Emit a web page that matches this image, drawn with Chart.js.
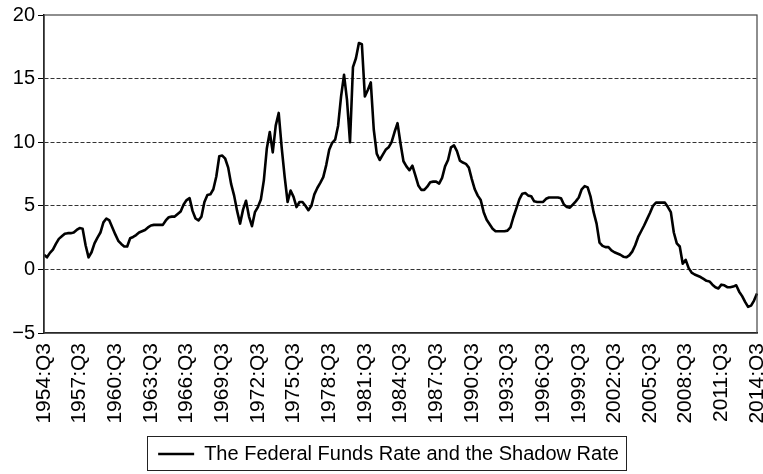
<!DOCTYPE html>
<html>
<head>
<meta charset="utf-8">
<script src="https://cdn.jsdelivr.net/npm/chart.js@4"></script>
<style>
  html, body { margin: 0; padding: 0; background: #fff; }
  #wrap { width: 763px; height: 474px; }
</style>
</head>
<body>
<div id="wrap"><canvas id="rateChart" width="763" height="474"></canvas></div>
<script>
// quarterly categories, 1954:Q3 .. 2014:Q3
const startYear = 1954;
const startQuarter = 3;
const quarterCount = 241;
const quarters = [];
for (let i = 0; i < quarterCount; i++) {
  const q = startQuarter - 1 + i;
  quarters.push((startYear + Math.floor(q / 4)) + ":Q" + (q % 4 + 1));
}

// values (percent)
const rates1954 = [1.15, 0.95, 1.3, 1.55, 2.0, 2.4, 2.6, 2.8, 2.85, 2.85, 2.9, 3.1,
  3.25, 3.2, 1.9, 0.95, 1.35, 2.05, 2.5, 2.9, 3.7, 4.0, 3.85, 3.3,
  2.75, 2.25, 2.0, 1.8, 1.8, 2.45, 2.55, 2.7, 2.9, 3.0, 3.1, 3.3,
  3.45, 3.5, 3.5, 3.5, 3.5, 3.85, 4.1, 4.15, 4.15, 4.35, 4.55, 5.1];
const rates1966 = [5.45, 5.6, 4.6, 4.0, 3.85, 4.15, 5.3, 5.85, 5.9, 6.3, 7.3, 8.9,
  8.95, 8.7, 8.0, 6.7, 5.8, 4.6, 3.6, 4.7, 5.4, 4.15, 3.4, 4.5,
  4.9, 5.5, 7.0, 9.5, 10.8, 9.2, 11.3, 12.3, 9.6, 7.3, 5.3, 6.2,
  5.7, 4.9, 5.3, 5.3, 5.0, 4.65, 5.0, 5.9, 6.4, 6.8, 7.25, 8.2];
const rates1978 = [9.4, 9.95, 10.2, 11.3, 13.6, 15.3, 13.3, 10.0, 15.9, 16.6, 17.8, 17.7,
  13.6, 14.1, 14.7, 11.0, 9.1, 8.6, 9.0, 9.4, 9.6, 10.0, 10.8, 11.5,
  9.9, 8.5, 8.1, 7.8, 8.15, 7.4, 6.6, 6.25, 6.25, 6.5, 6.85, 6.9,
  6.9, 6.75, 7.2, 8.1, 8.6, 9.6, 9.75, 9.3, 8.55, 8.4, 8.3, 8.0];
const rates1990 = [7.1, 6.3, 5.8, 5.45, 4.5, 3.9, 3.55, 3.2, 3.0, 3.0, 3.0, 3.0,
  3.05, 3.3, 4.1, 4.8, 5.5, 5.95, 6.0, 5.8, 5.75, 5.35, 5.3, 5.3,
  5.3, 5.55, 5.65, 5.65, 5.65, 5.65, 5.6, 5.1, 4.9, 4.85, 5.1, 5.35,
  5.65, 6.3, 6.55, 6.45, 5.7, 4.5, 3.6, 2.1, 1.85, 1.75, 1.75, 1.5];
const rates2002 = [1.35, 1.25, 1.15, 1.0, 0.95, 1.1, 1.4, 1.9, 2.55, 3.0, 3.45, 3.95,
  4.45, 5.0, 5.25, 5.25, 5.25, 5.25, 4.9, 4.5, 2.9, 2.05, 1.8, 0.45,
  0.75, 0.1, -0.25, -0.4, -0.5, -0.6, -0.75, -0.9, -0.95, -1.2, -1.4, -1.5,
  -1.2, -1.25, -1.4, -1.4, -1.35, -1.25, -1.75, -2.1, -2.55, -2.95, -2.85, -2.45,
  -1.9];
const rates = rates1954.concat(rates1966, rates1978, rates1990, rates2002);

const yTicks = [-5, 0, 5, 10, 15, 20];
const seriesName = "The Federal Funds Rate and the Shadow Rate";

const font = "'Liberation Sans', Arial, Helvetica, sans-serif";
Chart.defaults.font.family = font;
Chart.defaults.color = "#000";

// nudge the legend a little right, like the original
const legendShift = {
  id: "legendShift",
  afterLayout(chart) {
    chart.legend.left += 10;
    chart.legend.right += 10;
  }
};

// box around the plot area and around the legend
const boxes = {
  id: "boxes",
  afterDraw(chart) {
    const ctx = chart.ctx;
    const a = chart.chartArea;
    ctx.save();
    ctx.strokeStyle = "#444";
    ctx.lineWidth = 1.2;
    ctx.strokeRect(a.left, a.top, a.right - a.left, a.bottom - a.top);
    const hb = chart.legend.legendHitBoxes[0];
    if (hb) {
      ctx.strokeStyle = "#222";
      ctx.lineWidth = 1;
      ctx.strokeRect(Math.round(hb.left - 11) + 0.5, Math.round(hb.top - 8) + 0.5,
        Math.round(hb.width + 18), Math.round(hb.height + 14));
    }
    ctx.restore();
  }
};

const ctx = document.getElementById("rateChart").getContext("2d");
new Chart(ctx, {
  type: "line",
  data: {
    labels: quarters,
    datasets: [{
      label: seriesName,
      data: rates,
      borderColor: "#000",
      backgroundColor: "#000",
      borderWidth: 2.6,
      pointRadius: 0,
      tension: 0,
      borderJoinStyle: "round",
    }],
  },
  options: {
    responsive: false,
    animation: false,
    layout: { padding: { top: 15, right: 6, left: 0, bottom: 0 } },
    plugins: {
      tooltip: { enabled: false },
      legend: {
        position: "bottom",
        labels: {
          font: { size: 20 },
          usePointStyle: true,
          pointStyle: "line",
          pointStyleWidth: 36,
          padding: 9,
          color: "#000",
        },
      },
    },
    scales: {
      x: {
        type: "category",
        offset: false,
        grid: { display: false, drawTicks: false },
        border: { display: true, color: "#000", width: 1.5 },
        ticks: {
          autoSkip: false,
          minRotation: 90,
          maxRotation: 90,
          padding: 10,
          font: { size: 21 },
          callback: (v, i) => (i % 12 === 0 ? quarters[i] : null),
        },
        afterFit: (s) => { s.height = 102; s.paddingLeft = 0; s.paddingRight = 0; },
      },
      y: {
        min: -5,
        max: 20,
        afterBuildTicks: (s) => { s.ticks = yTicks.map((v) => ({ value: v })); },
        grid: {
          color: (c) => (c.tick && (c.tick.value === 20 || c.tick.value === -5) ? "rgba(0,0,0,0)" : "#333"),
          tickColor: "#000",
          tickLength: 6,
          lineWidth: 1,
        },
        border: { display: true, color: "#000", width: 1.5, dash: [4, 2] },
        ticks: {
          padding: 3,
          font: { size: 20 },
          callback: (v) => (v < 0 ? "\u2212" + Math.abs(v) : String(v)),
        },
        afterFit: (s) => { s.width = 44; s.paddingTop = 0; s.paddingBottom = 0; },
      },
    },
  },
  plugins: [legendShift, boxes],
});
</script>
</body>
</html>
